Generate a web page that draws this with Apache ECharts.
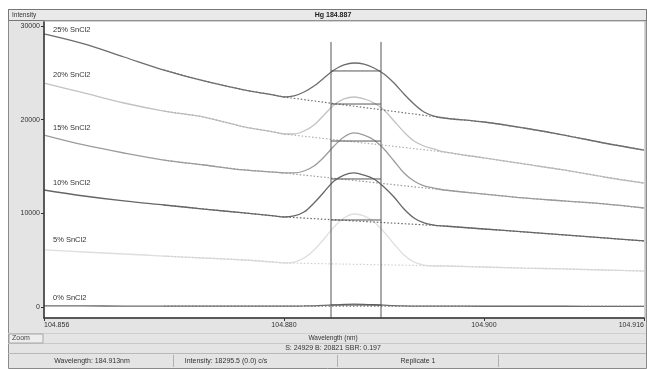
<!DOCTYPE html>
<html>
<head>
<meta charset="utf-8">
<script src="https://cdn.jsdelivr.net/npm/echarts@6/dist/echarts.min.js"></script>
<style>
  html, body { margin: 0; padding: 0; background: #fff; }
  #main { width: 647px; height: 369px; }
</style>
</head>
<body>
<div id="main"></div>
<script>
  // wavelength axis (nm) and the six scans, intensity in c/s
  var wavelength = [104.856, 104.860, 104.864, 104.868, 104.872, 104.876, 104.879, 104.880, 104.881, 104.882,
    104.883, 104.884, 104.885, 104.886, 104.887, 104.888, 104.889, 104.890, 104.891, 104.892,
    104.893, 104.894, 104.895, 104.896, 104.900, 104.904, 104.908, 104.912, 104.916]
  var sn25 = [29150, 28080, 26690, 25300, 24130, 23170, 22630, 22420, 22530, 22950,
    23590, 24450, 25300, 25840, 26050, 25940, 25520, 24870, 23910, 22740,
    21670, 20820, 20390, 20180, 19750, 19110, 18360, 17510, 16760]
  var sn20 = [23910, 22850, 21780, 20920, 20280, 19220, 18680, 18470, 18470, 18790,
    19430, 20500, 21570, 22210, 22420, 22210, 21780, 21030, 19860, 18680,
    17720, 17190, 16870, 16550, 15910, 15270, 14630, 13880, 13240]
  var sn15 = [18360, 17300, 16440, 15690, 15160, 14630, 14410, 14310, 14310, 14520,
    15050, 16010, 17190, 18150, 18580, 18360, 17830, 16870, 15590, 14310,
    13450, 12920, 12700, 12490, 12060, 11640, 11320, 11000, 10570]
  var sn10 = [12490, 11850, 11320, 10890, 10460, 10040, 9720, 9610, 9720, 10140,
    11100, 12280, 13450, 14090, 14310, 14090, 13670, 12810, 11740, 10460,
    9500, 8970, 8750, 8650, 8330, 8010, 7690, 7370, 7050]
  var sn05 = [6090, 5870, 5660, 5440, 5230, 5020, 4800, 4700, 4800, 5230,
    6090, 7260, 8540, 9500, 9930, 9720, 9070, 8010, 6730, 5550,
    4800, 4480, 4380, 4380, 4270, 4160, 4060, 3950, 3840]
  var sn00 = [110, 110, 100, 100, 100, 90, 90, 90, 100, 110,
    130, 170, 220, 270, 300, 280, 240, 190, 140, 110,
    100, 90, 90, 90, 80, 80, 80, 70, 70]
  var scanNames = ['25% SnCl2', '20% SnCl2', '15% SnCl2', '10% SnCl2', '5% SnCl2', '0% SnCl2']
  // integration level drawn between the window lines
  var peakLevels = [25200, 21670, 17720, 13670, 9290, 210]
  var windowEdges = [104.8847, 104.8897]
  var windowTop = 28300
  // points kept for the dotted background fit (the peak region is skipped)
  var backgroundIdx = [3, 4, 5, 6, 7, 23, 24, 25, 26, 27, 28]
  var xTicks = [104.856, 104.880, 104.900, 104.916]
  var yTicks = [0, 10000, 20000, 30000]

  var scans = [sn25, sn20, sn15, sn10, sn05, sn00]
  var lineColors = ['#6c6c6c', '#c2c2c2', '#9c9c9c', '#666666', '#dedede', '#6a6a6a']
  var dotColors = ['#707070', '#b0b0b0', '#999999', '#666666', '#d0d0d0', '#777777']
  var labelY = [30, 75, 128, 183, 240, 298]

  var myChart = echarts.init(document.getElementById('main'))
  var series = []
  var graphics = [
    {type: 'rect', z: 0, shape: {x: 8.5, y: 9.5, width: 638, height: 359}, style: {fill: '#e4e4e4', stroke: '#8a8a8a', lineWidth: 1}},
    {type: 'rect', z: 1, shape: {x: 8.5, y: 9.5, width: 638, height: 11}, style: {fill: '#e9e9e9', stroke: '#777', lineWidth: 1}},
    {type: 'rect', z: 1, shape: {x: 44, y: 21, width: 601, height: 297}, style: {fill: '#ffffff', stroke: '#aaa', lineWidth: 1}},
    {type: 'text', z: 10, x: 333, y: 15, style: {text: 'Hg 184.887', font: 'bold 7px "Liberation Sans"', fill: '#222', align: 'center', verticalAlign: 'middle'}},
    {type: 'text', z: 10, x: 12, y: 15, style: {text: 'Intensity', font: '6.5px "Liberation Sans"', fill: '#333', verticalAlign: 'middle'}},
    {type: 'line', z: 2, shape: {x1: 8, y1: 333.5, x2: 646, y2: 333.5}, style: {stroke: '#cfcfcf'}},
    {type: 'line', z: 2, shape: {x1: 8, y1: 343.5, x2: 646, y2: 343.5}, style: {stroke: '#c8c8c8'}},
    {type: 'line', z: 2, shape: {x1: 8, y1: 353.5, x2: 646, y2: 353.5}, style: {stroke: '#b8b8b8'}},
    {type: 'rect', z: 3, shape: {x: 9, y: 334, width: 34, height: 9}, style: {fill: '#ededed', stroke: '#a8a8a8'}},
    {type: 'text', z: 10, x: 12, y: 338.5, style: {text: 'Zoom', font: '7px "Liberation Sans"', fill: '#444', verticalAlign: 'middle'}},
    {type: 'text', z: 10, x: 333, y: 338.5, style: {text: 'Wavelength (nm)', font: '6.5px "Liberation Sans"', fill: '#333', align: 'center', verticalAlign: 'middle'}},
    {type: 'text', z: 10, x: 333, y: 348.5, style: {text: 'S: 24929 B: 20821 SBR: 0.197', font: '7px "Liberation Sans"', fill: '#333', align: 'center', verticalAlign: 'middle'}},
    {type: 'text', z: 10, x: 92, y: 361, style: {text: 'Wavelength: 184.913nm', font: '7px "Liberation Sans"', fill: '#333', align: 'center', verticalAlign: 'middle'}},
    {type: 'text', z: 10, x: 226, y: 361, style: {text: 'Intensity: 18295.5 (0.0) c/s', font: '7px "Liberation Sans"', fill: '#333', align: 'center', verticalAlign: 'middle'}},
    {type: 'text', z: 10, x: 418, y: 361, style: {text: 'Replicate 1', font: '7px "Liberation Sans"', fill: '#333', align: 'center', verticalAlign: 'middle'}},
    {type: 'line', z: 2, shape: {x1: 173.5, y1: 355, x2: 173.5, y2: 367}, style: {stroke: '#b0b0b0'}},
    {type: 'line', z: 2, shape: {x1: 337.5, y1: 355, x2: 337.5, y2: 367}, style: {stroke: '#b0b0b0'}},
    {type: 'line', z: 2, shape: {x1: 498.5, y1: 355, x2: 498.5, y2: 367}, style: {stroke: '#b0b0b0'}}
  ]

  for (var s = 0; s < scans.length; s++) {
    var pts = []
    for (var i = 0; i < wavelength.length; i++) {
      pts.push([wavelength[i], scans[s][i]])
    }
    var bg = []
    for (var j = 0; j < backgroundIdx.length; j++) {
      var k = backgroundIdx[j]
      bg.push([wavelength[k], scans[s][k]])
    }
    series.push({
      name: scanNames[s],
      type: 'line',
      data: pts,
      smooth: 0.35,
      showSymbol: false,
      silent: true,
      z: 3,
      lineStyle: {color: lineColors[s], width: 1.3}
    })
    series.push({
      type: 'line',
      data: bg,
      showSymbol: false,
      silent: true,
      z: 4,
      lineStyle: {color: dotColors[s], width: 1.2, type: [1.5, 2]}
    })
    series.push({
      type: 'line',
      data: [[windowEdges[0], peakLevels[s]], [windowEdges[1], peakLevels[s]]],
      showSymbol: false,
      silent: true,
      z: 5,
      lineStyle: {color: '#555', width: 1}
    })
    graphics.push({
      type: 'text', z: 10, x: 53, y: labelY[s],
      style: {text: scanNames[s], font: '7.5px "Liberation Sans"', fill: '#333', verticalAlign: 'middle'}
    })
  }
  for (var w = 0; w < windowEdges.length; w++) {
    series.push({
      type: 'line',
      data: [[windowEdges[w], -1174], [windowEdges[w], windowTop]],
      showSymbol: false,
      silent: true,
      z: 5,
      lineStyle: {color: '#555', width: 1}
    })
  }

  var option = {
    animation: false,
    backgroundColor: '#fff',
    grid: {left: 44, top: 22, width: 600, height: 296},
    xAxis: {
      type: 'value',
      min: 104.856,
      max: 104.916,
      z: 6,
      axisLine: {show: true, onZero: false, lineStyle: {color: '#333', width: 1.5}},
      axisTick: {show: true, customValues: xTicks, length: 3, lineStyle: {color: '#333'}},
      axisLabel: {
        customValues: xTicks,
        fontSize: 7,
        color: '#333',
        fontFamily: 'Liberation Sans',
        margin: 4,
        alignMinLabel: 'left',
        alignMaxLabel: 'right',
        formatter: function (v) { return v.toFixed(3) }
      },
      splitLine: {show: false}
    },
    yAxis: {
      type: 'value',
      min: -1174,
      max: 30427,
      z: 6,
      axisLine: {show: true, onZero: false, lineStyle: {color: '#333', width: 1.5}},
      axisTick: {show: true, customValues: yTicks, length: 3, lineStyle: {color: '#333'}},
      axisLabel: {
        customValues: yTicks,
        fontSize: 7,
        color: '#333',
        fontFamily: 'Liberation Sans',
        margin: 4,
        formatter: function (v) { return String(v) }
      },
      splitLine: {show: false}
    },
    graphic: graphics,
    series: series
  }
  myChart.setOption(option)
</script>
</body>
</html>
